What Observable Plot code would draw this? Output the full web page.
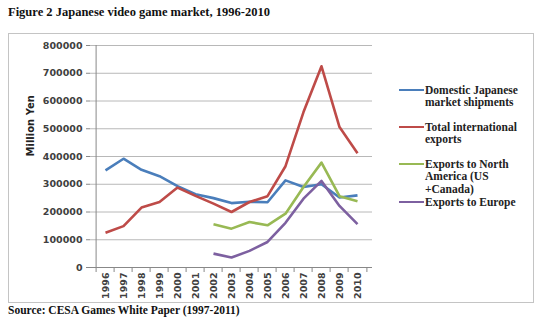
<!DOCTYPE html>
<html><head><meta charset="utf-8">
<script src="https://cdn.jsdelivr.net/npm/d3@7"></script>
<script src="https://cdn.jsdelivr.net/npm/@observablehq/plot@0.6"></script>
<style>
body{margin:0;background:#fff;}
#wrap{position:relative;width:550px;height:324px;overflow:hidden;background:#fff;}
#title{position:absolute;left:8px;top:5px;font:bold 12.5px "Liberation Serif",serif;color:#111;white-space:nowrap;}
#box{position:absolute;left:8px;top:33px;width:526px;height:270px;box-sizing:border-box;border:1px solid #c4c4c4;}
#chart{position:absolute;left:0;top:33px;}
#caption{position:absolute;left:8px;top:304px;font:bold 11.5px "Liberation Serif",serif;color:#111;white-space:nowrap;}
.leg{position:absolute;left:399px;font:bold 11.5px "Liberation Serif",serif;color:#222;line-height:12.5px;}
.leg .sw{position:absolute;left:0;top:5px;width:25px;height:2.5px;}
.leg .tx{position:absolute;left:26px;top:0;white-space:nowrap;}
</style></head><body>
<div id="wrap">
  <div id="title">Figure 2 Japanese video game market, 1996-2010</div>
  <div id="box"></div>
  <div id="chart"></div>
  <div id="legend"></div>
  <div id="caption">Source: CESA Games White Paper (1997-2011)</div>
</div>
<script>
const years = [1996,1997,1998,1999,2000,2001,2002,2003,2004,2005,2006,2007,2008,2009,2010];
const domestic = [350000,392000,352000,329000,293000,264000,250000,232000,237000,235000,314000,290000,300000,252000,260000];
const totalExports = [125000,149000,216000,236000,288000,258000,230000,200000,236000,257000,365000,560000,725000,506000,412000];
const exportsNA = [null,null,null,null,null,null,156000,140000,164000,152000,194000,290000,378000,257000,239000];
const exportsEurope = [null,null,null,null,null,null,50000,36000,60000,92000,161000,248000,312000,222000,156000];
const yTicks = [0,100000,200000,300000,400000,500000,600000,700000,800000];
const seriesNames = ["Domestic Japanese market shipments","Total international exports","Exports to North America (US +Canada)","Exports to Europe"];
const legendLines = [["Domestic Japanese","market shipments"],["Total international","exports"],["Exports to North","America (US","+Canada)"],["Exports to Europe"]];
const seriesColors = ["#4a7ebb","#be4b48","#98b954","#7d60a0"];
const seriesValues = [domestic, totalExports, exportsNA, exportsEurope];

const rows = [];
seriesNames.forEach((name, i) => {
  years.forEach((yr, j) => rows.push({series: name, year: yr, value: seriesValues[i][j]}));
});

const W = 550, H = 269;
const plot = Plot.plot({
  width: W, height: H,
  marginLeft: 90, marginRight: 178, marginTop: 12, marginBottom: 35,
  style: {fontFamily: "DejaVu Sans", fontSize: "9.5px", fontWeight: "bold", color: "#404040", background: "transparent", overflow: "visible"},
  x: {type: "point", domain: years, padding: 0.5, label: null},
  y: {domain: [0, 800000], label: null},
  color: {domain: seriesNames, range: seriesColors},
  marks: [
    Plot.gridY(yTicks, {stroke: "#b8b8b8", strokeOpacity: 1}),
    Plot.axisY(yTicks, {tickFormat: d3.format("d"), tickSize: 4, tickPadding: 4, stroke: "#888", label: null}),
    Plot.ruleX([years[0]], {dx: -9.4, y1: 0, y2: 800000, stroke: "#888"}),
    Plot.ruleY([0], {stroke: "#888"}),
    Plot.axisX(years, {tickSize: 5, tickFormat: () => "", dx: -9.4, stroke: "#888", label: null}),
    Plot.axisX([years[years.length-1]], {tickSize: 5, tickFormat: () => "", dx: 9.4, stroke: "#888", label: null}),
    Plot.axisX(years, {tickSize: 0, tickPadding: 5, tickRotate: -90, tickFormat: d3.format("d"), label: null, fill: "#404040"}),
    Plot.text(["Million Yen"], {frameAnchor: "left", dx: -60, rotate: -90, fontSize: 10, fontWeight: "bold", fill: "#222"}),
    Plot.lineY(rows, {x: "year", y: "value", z: "series", stroke: "series", strokeWidth: 2.6, strokeLinejoin: "round", strokeLinecap: "butt"})
  ]
});
document.getElementById("chart").appendChild(plot);

const legendTops = [90, 127, 164, 202];
const legend = document.getElementById("legend");
seriesNames.forEach((name, i) => {
  const d = document.createElement("div");
  d.className = "leg";
  d.style.top = (legendTops[i] - 6.25) + "px";
  const sw = document.createElement("div");
  sw.className = "sw";
  sw.style.background = seriesColors[i];
  const tx = document.createElement("div");
  tx.className = "tx";
  tx.innerHTML = legendLines[i].join("<br>");
  d.appendChild(sw); d.appendChild(tx);
  legend.appendChild(d);
});
</script>
</body></html>
